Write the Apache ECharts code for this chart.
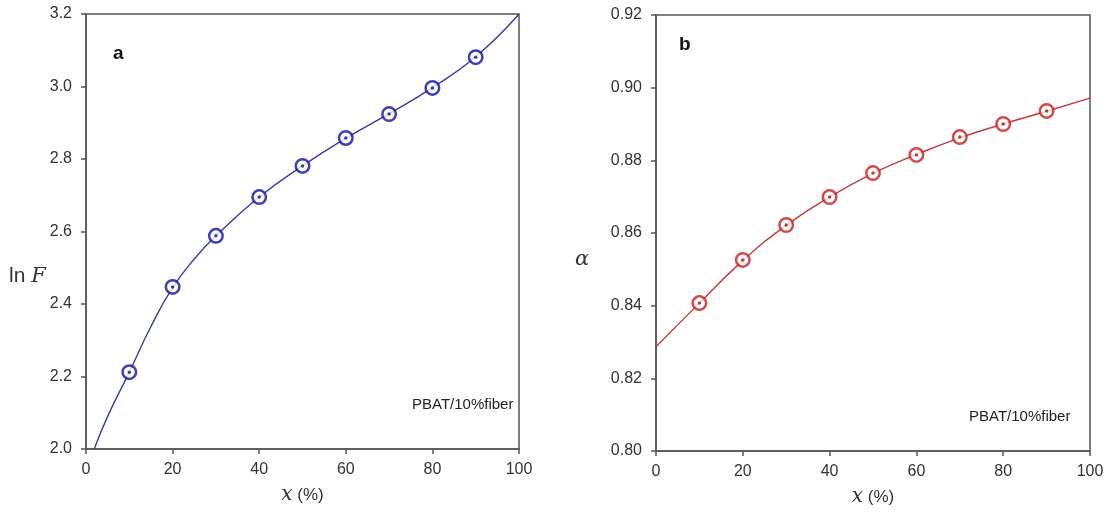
<!DOCTYPE html>
<html>
<head>
<meta charset="utf-8">
<script src="https://cdn.jsdelivr.net/npm/echarts@6/dist/echarts.min.js"></script>
<style>html,body{margin:0;padding:0;background:#fff}#c{width:1111px;height:518px}</style>
</head>
<body>
<div id="c"></div>
<script>
// Panel a: ln F vs x (%)
var xPoints = [10, 20, 30, 40, 50, 60, 70, 80, 90];
var lnF = [2.212, 2.447, 2.588, 2.695, 2.781, 2.858, 2.924, 2.996, 3.081];
var fitXA = [1.9, 5, 10, 15, 20, 25, 30, 40, 50, 60, 70, 80, 90, 100];
var fitLnF = [2.0, 2.090, 2.212, 2.338, 2.445, 2.524, 2.588, 2.695, 2.781, 2.857, 2.925, 2.997, 3.082, 3.2];
// Panel b: alpha vs x (%)
var alpha = [0.8407, 0.8526, 0.8622, 0.8699, 0.8765, 0.8815, 0.8864, 0.8900, 0.8936];
var fitXB = [0, 10, 20, 30, 40, 50, 60, 70, 80, 90, 100];
var fitAlpha = [0.8287, 0.8407, 0.8524, 0.8621, 0.8699, 0.8764, 0.8816, 0.8862, 0.8900, 0.8935, 0.8971];

function zip(a, b) { return a.map(function (v, i) { return [v, b[i]]; }); }

var font = 'Liberation Sans, Arial, sans-serif';
var axisCol = '#555';
function xAx(gi) {
  return {
    gridIndex: gi, type: 'value', min: 0, max: 100, interval: 20,
    name: '{i|x} (%)', nameLocation: 'middle', nameGap: 36,
    nameTextStyle: { fontFamily: font, fontSize: 17, color: '#333', rich: { i: { fontFamily: 'DejaVu Serif, serif', fontStyle: 'italic', fontSize: 20, color: '#333' } } },
    axisLine: { show: true, lineStyle: { color: axisCol, width: 1.5 } },
    axisTick: { show: true, inside: false, length: 5, lineStyle: { color: axisCol, width: 1.5 } },
    axisLabel: { fontFamily: font, fontSize: 16, color: '#333', margin: 13 },
    splitLine: { show: false }
  };
}
function yAx(gi, min, max, step, dec) {
  return {
    gridIndex: gi, type: 'value', min: min, max: max, interval: step,
    axisLine: { show: true, lineStyle: { color: axisCol, width: 1.5 } },
    axisTick: { show: true, length: 5, lineStyle: { color: axisCol, width: 1.5 } },
    axisLabel: { fontFamily: font, fontSize: 16, color: '#333', margin: 14, formatter: function (v) { return v.toFixed(dec); } },
    splitLine: { show: false }
  };
}
var chart = echarts.init(document.getElementById('c'), null, { renderer: 'canvas' });
chart.setOption({
  animation: false,
  grid: [
    { left: 86, top: 14, width: 433, height: 435, show: true, borderColor: axisCol, borderWidth: 1.5, containLabel: false },
    { left: 656, top: 15, width: 434, height: 436, show: true, borderColor: axisCol, borderWidth: 1.5, containLabel: false }
  ],
  xAxis: [xAx(0), xAx(1)],
  yAxis: [yAx(0, 2.0, 3.2, 0.2, 1), yAx(1, 0.80, 0.92, 0.02, 2)],
  series: [
    { type: 'line', xAxisIndex: 0, yAxisIndex: 0, data: zip(fitXA, fitLnF), smooth: 0.5, showSymbol: false, lineStyle: { color: '#3a3aa8', width: 1.4 }, z: 2 },
    { type: 'scatter', xAxisIndex: 0, yAxisIndex: 0, data: zip(xPoints, lnF), symbol: 'circle', symbolSize: 13.5, itemStyle: { color: '#fff', borderColor: '#0f0fa2', borderWidth: 2.5 }, z: 3 },
    { type: 'scatter', xAxisIndex: 0, yAxisIndex: 0, data: zip(xPoints, lnF), symbol: 'circle', symbolSize: 3.5, itemStyle: { color: '#10108a' }, z: 4 },
    { type: 'line', xAxisIndex: 1, yAxisIndex: 1, data: zip(fitXB, fitAlpha), smooth: 0.5, showSymbol: false, lineStyle: { color: '#c43a3a', width: 1.4 }, z: 2 },
    { type: 'scatter', xAxisIndex: 1, yAxisIndex: 1, data: zip(xPoints, alpha), symbol: 'circle', symbolSize: 13.5, itemStyle: { color: '#fff', borderColor: '#c81e1e', borderWidth: 2.5 }, z: 3 },
    { type: 'scatter', xAxisIndex: 1, yAxisIndex: 1, data: zip(xPoints, alpha), symbol: 'circle', symbolSize: 3.5, itemStyle: { color: '#a01818' }, z: 4 }
  ],
  graphic: [
    { type: 'text', left: 113, top: 44, style: { text: 'a', font: 'bold 19px ' + font, fill: '#111' } },
    { type: 'text', left: 679, top: 35, style: { text: 'b', font: 'bold 19px ' + font, fill: '#111' } },
    { type: 'text', left: 412, top: 397, style: { text: 'PBAT/10%fiber', font: '15px ' + font, fill: '#222' } },
    { type: 'text', left: 969, top: 409, style: { text: 'PBAT/10%fiber', font: '15px ' + font, fill: '#222' } },
    { type: 'text', left: 9, top: 266, style: { text: 'ln {i|F}', font: '21px ' + font, fill: '#333', rich: { i: { fontFamily: 'DejaVu Serif, serif', fontStyle: 'italic', fontSize: 21, fill: '#333' } } } },
    { type: 'text', left: 575, top: 249, style: { text: 'α', font: 'italic 21px DejaVu Serif, serif', fill: '#333' } }
  ]
});
</script>
</body>
</html>
